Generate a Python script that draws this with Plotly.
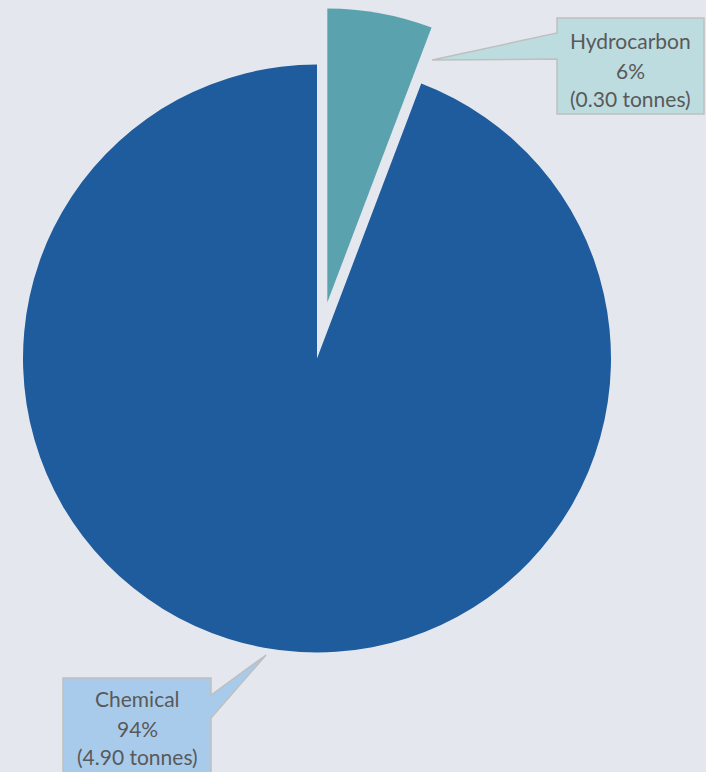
import plotly.graph_objects as go

# Waste by type
categories = ["Hydrocarbon", "Chemical"]
tonnes = [0.30, 4.90]
percent_labels = ["6%", "94%"]

W, H = 706, 772
BG = "#E4E8EE"
colors = {"Hydrocarbon": "#5AA2AE", "Chemical": "#1F5C9E"}
box_fill = {"Hydrocarbon": "#BDDCE0", "Chemical": "#A9CBEB"}

# main pie geometry (pixels), plus the offset of the exploded slice
cx, cy, r = 317, 358.5, 294
pull_dx, pull_dy = 10.3, -56


def domain(x0, y0, rad):
    return dict(x=[(x0 - rad) / W, (x0 + rad) / W],
                y=[1 - (y0 + rad) / H, 1 - (y0 - rad) / H])


fig = go.Figure()

# body of the pie: every slice except the exploded one
fig.add_trace(go.Pie(
    labels=categories, values=tonnes, sort=False, direction="clockwise",
    rotation=0, textinfo="none", hoverinfo="label+value+percent",
    marker=dict(colors=["rgba(0,0,0,0)", colors["Chemical"]], line=dict(width=0)),
    domain=domain(cx, cy, r), showlegend=False,
))
# exploded Hydrocarbon slice
fig.add_trace(go.Pie(
    labels=categories, values=tonnes, sort=False, direction="clockwise",
    rotation=0, textinfo="none", hoverinfo="label+value+percent",
    marker=dict(colors=[colors["Hydrocarbon"], "rgba(0,0,0,0)"], line=dict(width=0)),
    domain=domain(cx + pull_dx, cy + pull_dy, r), showlegend=False,
))

# callout boxes (pixel coordinates on a hidden axis)
callouts = {
    "Hydrocarbon": dict(box=(557, 18, 704, 114), base=(33, 59), side="left", tip=(432, 60),
                        tx=630.5, ty=[40, 70, 98]),
    "Chemical": dict(box=(63, 678, 211, 790), base=(695, 718), side="right", tip=(266, 655),
                     tx=137, ty=[698, 728, 756]),
}

shapes = []
annotations = []
for i, name in enumerate(categories):
    c = callouts[name]
    x0, y0, x1, y1 = c["box"]
    b0, b1 = c["base"]
    tx, ty = c["tip"]
    if c["side"] == "left":
        path = (f"M{x0},{y0} L{x1},{y0} L{x1},{y1} L{x0},{y1} L{x0},{b1} "
                f"L{tx},{ty} L{x0},{b0} Z")
    else:
        path = (f"M{x0},{y0} L{x1},{y0} L{x1},{b0} L{tx},{ty} L{x1},{b1} "
                f"L{x1},{y1} L{x0},{y1} Z")
    shapes.append(dict(type="path", xref="x", yref="y", path=path,
                       fillcolor=box_fill[name], line=dict(color="#BFBFBF", width=1.5),
                       layer="above"))
    lines = [name, percent_labels[i], f"({tonnes[i]:.2f} tonnes)"]
    for txt, yy in zip(lines, c["ty"]):
        annotations.append(dict(x=c["tx"], y=yy, xref="x", yref="y", text=txt,
                                showarrow=False, xanchor="center", yanchor="middle",
                                font=dict(family="Lato, Carlito, sans-serif", size=21,
                                          color="#595959")))

fig.update_layout(
    width=W, height=H, margin=dict(l=0, r=0, t=0, b=0),
    paper_bgcolor=BG, plot_bgcolor="rgba(0,0,0,0)",
    xaxis=dict(range=[0, W], visible=False, fixedrange=True),
    yaxis=dict(range=[H, 0], visible=False, fixedrange=True),
    shapes=shapes, annotations=annotations,
)

fig.write_html("out.html")
